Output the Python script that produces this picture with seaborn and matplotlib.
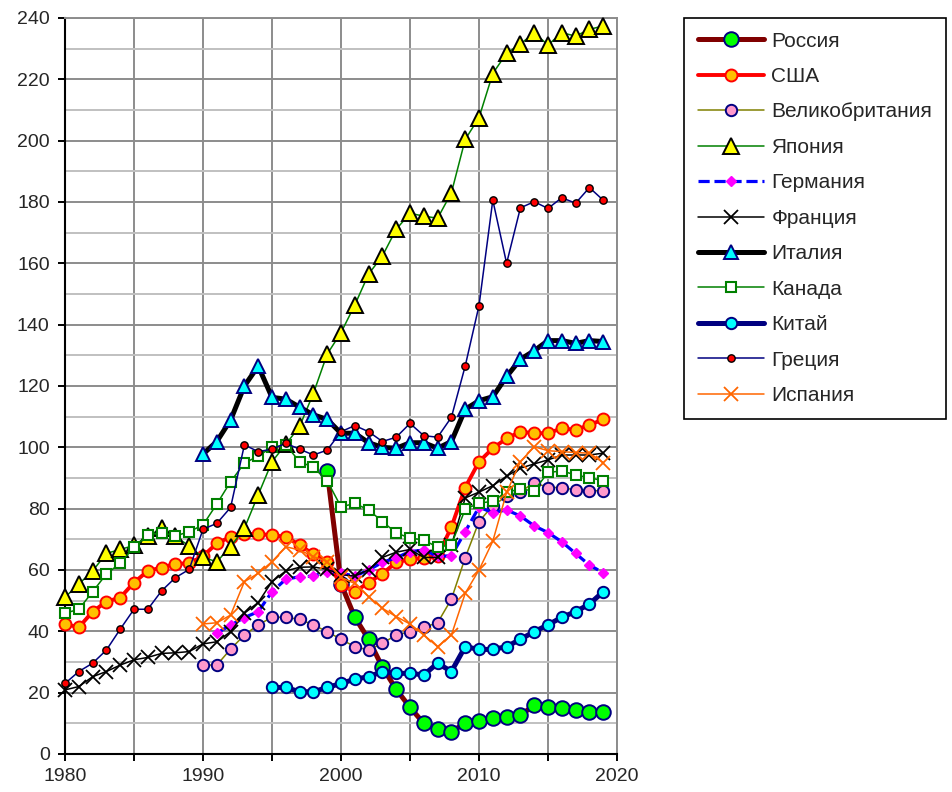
import matplotlib
matplotlib.use("Agg")
import matplotlib.pyplot as plt
import seaborn as sns
import pandas as pd

sns.set_style("white")
plt.rcParams['font.family'] = ['Liberation Sans', 'DejaVu Sans']

# ---- data (debt, % of GDP) ----
years_1980 = list(range(1980, 2020))
years_1990 = list(range(1990, 2020))
years_1991 = list(range(1991, 2020))
years_1995 = list(range(1995, 2020))
years_1999 = list(range(1999, 2020))

russia = [92.2, 55.5, 44.6, 37.4, 28.3, 21.1, 15.2, 10.0, 8.0, 7.3, 10.0, 10.6,
          11.6, 12.0, 12.6, 15.9, 15.3, 14.9, 14.3, 13.8, 13.8]
usa = [42.4, 41.3, 46.4, 49.7, 51.0, 55.9, 59.7, 60.8, 62.0, 62.2, 64.5, 68.7,
       70.8, 71.8, 71.7, 71.4, 70.8, 68.2, 65.1, 62.7, 55.2, 52.9, 55.9, 58.8,
       62.5, 63.5, 64.0, 64.5, 74.0, 86.9, 95.3, 99.7, 102.9, 105.1, 104.6,
       104.6, 106.2, 105.7, 107.3, 109.1]
uk = [29.0, 29.0, 34.2, 38.8, 42.1, 44.6, 44.6, 43.9, 42.1, 39.9, 37.4, 35.0,
      33.9, 36.1, 38.8, 39.9, 41.3, 42.8, 50.5, 64.0, 75.8, 81.0, 84.0, 85.5,
      88.5, 86.9, 86.9, 86.1, 85.9, 85.8]
japan = [51.1, 55.4, 59.7, 65.4, 66.7, 68.0, 71.0, 73.6, 71.0, 67.8, 64.1, 62.7,
         67.6, 73.6, 84.5, 95.3, 101.0, 106.8, 117.6, 130.4, 137.4, 146.4, 156.5,
         162.4, 171.1, 176.3, 175.4, 174.7, 183.0, 200.4, 207.5, 221.9, 228.5,
         231.5, 235.2, 231.2, 235.2, 234.1, 236.3, 237.4]
germany = [39.4, 42.0, 44.5, 46.4, 52.9, 57.0, 57.8, 58.0, 59.5, 59.0, 58.0, 60.0,
           62.5, 64.0, 66.0, 66.5, 64.5, 64.6, 72.5, 80.5, 78.7, 79.6, 77.6, 74.4,
           72.2, 69.2, 65.4, 61.6, 59.1]
france = [20.9, 22.0, 25.2, 26.9, 29.0, 30.7, 31.5, 32.8, 33.0, 33.4, 35.9, 36.6,
          39.9, 45.9, 49.4, 56.2, 59.7, 60.9, 61.0, 60.2, 58.5, 58.0, 60.1, 64.1,
          65.8, 66.7, 64.1, 64.1, 68.0, 83.5, 85.4, 87.5, 90.6, 93.2, 94.6, 95.9,
          97.5, 97.5, 97.5, 98.1]
italy = [97.8, 101.9, 108.9, 120.0, 126.5, 116.3, 115.7, 113.1, 110.6, 109.1,
         104.6, 104.6, 101.5, 100.0, 99.7, 101.5, 101.5, 99.7, 101.9, 112.4,
         115.2, 116.5, 123.1, 128.7, 131.5, 134.8, 134.8, 133.9, 134.8, 134.5]
canada = [45.9, 47.2, 52.9, 58.7, 62.2, 67.4, 71.4, 72.2, 71.1, 72.5, 74.7, 81.5,
          88.8, 94.8, 97.2, 100.0, 100.8, 95.3, 93.5, 89.1, 80.6, 81.7, 79.6, 75.8,
          72.1, 70.4, 69.8, 67.4, 68.3, 79.8, 81.8, 82.4, 85.5, 86.3, 85.9, 91.8,
          92.3, 91.0, 90.1, 89.1]
china = [21.7, 21.7, 20.3, 20.3, 21.7, 23.0, 24.4, 25.2, 26.9, 26.3, 26.3, 25.8,
         29.6, 26.9, 35.0, 34.1, 34.1, 35.0, 37.4, 39.9, 42.1, 44.6, 46.4, 48.9, 52.9]
greece = [23.0, 26.9, 29.6, 33.9, 40.7, 47.2, 47.2, 53.2, 57.5, 60.2, 73.3, 75.2,
          80.4, 100.8, 98.6, 99.4, 101.3, 99.4, 97.5, 99.1, 105.1, 107.1, 105.1,
          101.9, 103.3, 107.8, 103.8, 103.3, 109.8, 126.5, 146.2, 180.6, 160.0,
          178.1, 180.1, 177.9, 181.4, 179.6, 184.7, 180.6]
spain = [42.4, 42.8, 45.3, 56.2, 58.9, 62.7, 67.6, 66.5, 64.4, 62.7, 57.6, 55.6,
         51.3, 47.5, 44.8, 42.4, 38.8, 35.0, 38.8, 52.4, 60.0, 69.4, 85.3, 95.3,
         100.2, 98.9, 98.6, 98.3, 98.1, 95.0]

series = [
    ("Россия", years_1999, russia,
     dict(color="#800000", linewidth=3.6, marker="o", markersize=10.5,
          markerfacecolor="#00FF00", markeredgecolor="#000080", markeredgewidth=1.4)),
    ("США", years_1980, usa,
     dict(color="#FF0000", linewidth=2.8, marker="o", markersize=8.6,
          markerfacecolor="#FFC000", markeredgecolor="#FF0000", markeredgewidth=1.4)),
    ("Великобритания", years_1990, uk,
     dict(color="#808000", linewidth=1.1, marker="o", markersize=8.2,
          markerfacecolor="#FF99CC", markeredgecolor="#000080", markeredgewidth=1.4)),
    ("Япония", years_1980, japan,
     dict(color="#008000", linewidth=1.1, marker="^", markersize=11,
          markerfacecolor="#FFFF00", markeredgecolor="#000000", markeredgewidth=1.4)),
    ("Германия", years_1991, germany,
     dict(color="#0000FF", linewidth=2.3, linestyle=(0, (3.5, 1.5)), marker="D",
          markersize=5.5, markerfacecolor="#FF00FF", markeredgecolor="#FF00FF",
          markeredgewidth=1.0)),
    ("Франция", years_1980, france,
     dict(color="#000000", linewidth=1.1, marker="x", markersize=9.5,
          markeredgecolor="#000000", markeredgewidth=1.3)),
    ("Италия", years_1990, italy,
     dict(color="#000000", linewidth=3.6, marker="^", markersize=10.5,
          markerfacecolor="#00FFFF", markeredgecolor="#000080", markeredgewidth=1.4)),
    ("Канада", years_1980, canada,
     dict(color="#008000", linewidth=1.1, marker="s", markersize=7.5,
          markerfacecolor="#FFFFFF", markeredgecolor="#008000", markeredgewidth=1.5)),
    ("Китай", years_1995, china,
     dict(color="#000080", linewidth=3.6, marker="o", markersize=8.2,
          markerfacecolor="#00FFFF", markeredgecolor="#000080", markeredgewidth=1.4)),
    ("Греция", years_1980, greece,
     dict(color="#000080", linewidth=1.1, marker="o", markersize=5.3,
          markerfacecolor="#FF0000", markeredgecolor="#000000", markeredgewidth=1.0)),
    ("Испания", years_1990, spain,
     dict(color="#FF6600", linewidth=1.1, marker="x", markersize=9.5,
          markeredgecolor="#FF6600", markeredgewidth=1.3)),
]

fig = plt.figure(figsize=(9.52, 7.92), dpi=100)
ax = fig.add_axes([65 / 952, 1 - 754 / 792, (617 - 65) / 952, (754 - 18) / 792])

for i, (name, yrs, vals, style) in enumerate(series):
    df = pd.DataFrame({"year": yrs, "value": vals})
    sns.lineplot(data=df, x="year", y="value", ax=ax, label=name,
                 clip_on=False, zorder=3 + i, **style)

if ax.get_legend() is not None:
    ax.get_legend().remove()

ax.set_xlim(1980, 2020)
ax.set_ylim(0, 240)
ax.set_xlabel("")
ax.set_ylabel("")

xt = list(range(1980, 2021, 5))
ax.set_xticks(xt)
ax.set_xticklabels([str(x) if x % 10 == 0 else "" for x in xt])
ax.set_yticks(range(0, 241, 20))
ax.set_yticks(range(0, 241, 10), minor=True)

ax.grid(which="major", axis="both", color="#8c8c8c", linewidth=1.4)
ax.grid(which="minor", axis="y", color="#c0c0c0", linewidth=1.4)
ax.set_axisbelow(True)

ax.tick_params(axis="both", which="major", direction="out", length=5, width=1.4,
               color="black", labelsize=14, left=True, bottom=True)
ax.tick_params(axis="y", which="major", pad=6)
ax.tick_params(axis="x", which="major", pad=5)
ax.tick_params(axis="y", which="minor", left=False)

for side in ["left", "bottom"]:
    ax.spines[side].set_color("black")
    ax.spines[side].set_linewidth(1.5)
for side in ["top", "right"]:
    ax.spines[side].set_color("#8c8c8c")
    ax.spines[side].set_linewidth(1.4)

handles, labels = ax.get_legend_handles_labels()
leg = fig.legend(handles, labels, loc="upper left",
                 bbox_to_anchor=(684 / 952, 1 - 18 / 792), borderaxespad=0,
                 frameon=True, fancybox=False, edgecolor="black", framealpha=1,
                 fontsize=15, handlelength=3.2, handletextpad=0.35,
                 labelspacing=0.79, borderpad=0.65, numpoints=1)
leg.get_frame().set_linewidth(1.2)

fig.savefig("out.png", dpi=100)
